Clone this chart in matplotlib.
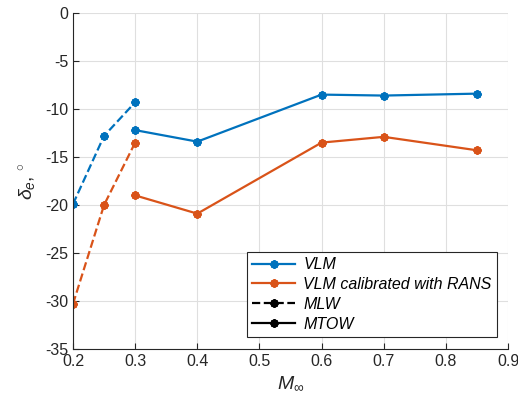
import matplotlib.pyplot as plt
from matplotlib.lines import Line2D

plt.rcParams['font.family'] = ['Liberation Sans', 'DejaVu Sans']
plt.rcParams['mathtext.fontset'] = 'custom'
plt.rcParams['mathtext.it'] = 'Liberation Sans:italic'
plt.rcParams['mathtext.rm'] = 'Liberation Sans'

# ---------------- DATA ----------------
mach_mlw = [0.2, 0.25, 0.3]
vlm_mlw = [-19.9, -12.8, -9.3]
rans_mlw = [-30.3, -20.0, -13.5]

mach_mtow = [0.3, 0.4, 0.6, 0.7, 0.85]
vlm_mtow = [-12.2, -13.4, -8.5, -8.6, -8.4]
rans_mtow = [-19.0, -20.9, -13.5, -12.9, -14.3]

x_ticks = [0.2, 0.3, 0.4, 0.5, 0.6, 0.7, 0.8, 0.9]
y_ticks = [0, -5, -10, -15, -20, -25, -30, -35]
# --------------------------------------

BLUE = "#0072BD"
ORANGE = "#D95319"
mk = dict(marker=(8, 2, 0), markersize=6, markeredgewidth=1.6, linewidth=1.6)

fig = plt.figure(figsize=(5.18, 4.04), dpi=100)
ax = fig.add_axes([73 / 518, 1 - 349 / 404, 435 / 518, 336 / 404])

ax.plot(mach_mlw, vlm_mlw, "--", color=BLUE, **mk)
ax.plot(mach_mtow, vlm_mtow, "-", color=BLUE, **mk)
ax.plot(mach_mlw, rans_mlw, "--", color=ORANGE, **mk)
ax.plot(mach_mtow, rans_mtow, "-", color=ORANGE, **mk)

ax.set_xlim(0.2, 0.9)
ax.set_ylim(-35, 0)
ax.set_xticks(x_ticks)
ax.set_yticks(y_ticks)
ax.set_xticklabels([f"{t:g}" for t in x_ticks])
ax.set_yticklabels([f"{t:g}" for t in y_ticks])
ax.grid(True, color="#dfdfdf", linewidth=0.8)
ax.set_axisbelow(True)
ax.tick_params(direction="in", length=4, labelsize=11.5, colors="#262626")
for s in ["top", "right"]:
    ax.spines[s].set_visible(False)
for s in ["left", "bottom"]:
    ax.spines[s].set_color("#262626")

ax.set_xlabel(r"$M_\infty$", fontsize=14, color="#262626")
ax.set_ylabel(r"$\delta_e$, $^{\circ}$", fontsize=14, color="#262626")

handles = [
    Line2D([], [], color=BLUE, linestyle="-", **mk),
    Line2D([], [], color=ORANGE, linestyle="-", **mk),
    Line2D([], [], color="black", linestyle="--", **mk),
    Line2D([], [], color="black", linestyle="-", **mk),
]
labels = ["VLM", "VLM calibrated with RANS", "MLW", "MTOW"]
leg = ax.legend(handles, labels, loc="lower right", bbox_to_anchor=(0.975, 0.035),
                fancybox=False, edgecolor="#262626", framealpha=1,
                prop={"style": "italic", "size": 11.5}, borderaxespad=0,
                handlelength=2.7, handletextpad=0.5, labelspacing=0.3,
                borderpad=0.35)
leg.get_frame().set_linewidth(0.8)

fig.savefig("out.png", dpi=100)
